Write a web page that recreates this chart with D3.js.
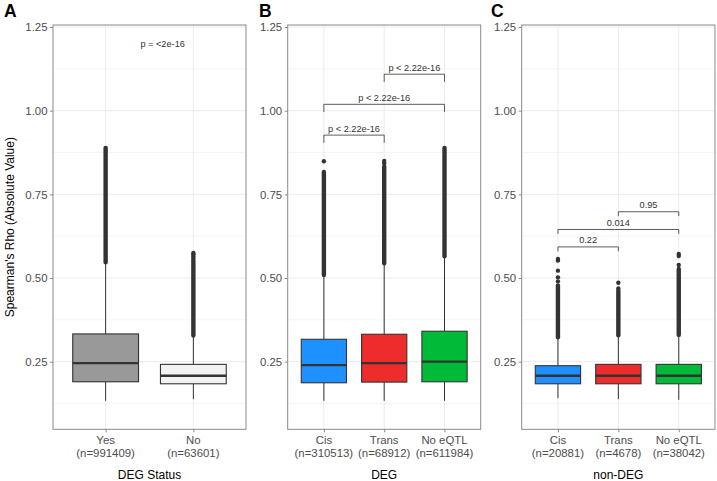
<!DOCTYPE html>
<html><head><meta charset="utf-8">
<script src="https://cdn.jsdelivr.net/npm/d3@7"></script>
<style>
body{margin:0;background:#fff;}
svg{display:block;font-family:"Liberation Sans",Arial,Helvetica,sans-serif;}
</style></head>
<body><svg id="chart" width="717" height="481"></svg>
<script>
// ---------------- DATA ----------------
const panelLetters = ["A", "B", "C"];
const panelTitles = ["DEG Status", "DEG", "non-DEG"];
const yTicks = [0.25, 0.50, 0.75, 1.00, 1.25];
const yMinor = [0.125, 0.375, 0.625, 0.875, 1.125];

// Panel A
const catsA = ["Yes", "No"];
const nA = ["991409", "63601"];
const lowA = [0.133, 0.138];
const q1A = [0.190, 0.184];
const medA = [0.246, 0.208];
const q3A = [0.333, 0.242];
const highA = [0.544, 0.325];
const denseLoA = [0.547, 0.328];
const denseHiA = [0.889, 0.552];
const pointsA = [[], [0.558, 0.565, 0.571, 0.575]];
const fillA = ["#999999", "#F2F2F2"];

// Panel B
const catsB = ["Cis", "Trans", "No eQTL"];
const nB = ["310513", "68912", "611984"];
const lowB = [0.133, 0.133, 0.133];
const q1B = [0.187, 0.189, 0.190];
const medB = [0.240, 0.246, 0.250];
const q3B = [0.317, 0.332, 0.341];
const highB = [0.506, 0.541, 0.562];
const denseLoB = [0.509, 0.544, 0.565];
const denseHiB = [0.817, 0.833, 0.889];
const pointsB = [[0.849], [0.843, 0.850], []];

// Panel C
const catsC = ["Cis", "Trans", "No eQTL"];
const nC = ["20881", "4678", "38042"];
const lowC = [0.141, 0.138, 0.136];
const q1C = [0.184, 0.184, 0.184];
const medC = [0.208, 0.208, 0.208];
const q3C = [0.238, 0.242, 0.242];
const highC = [0.320, 0.326, 0.327];
const denseLoC = [0.323, 0.329, 0.330];
const denseHiC = [0.478, 0.462, 0.527];
const pointsC = [[0.490, 0.502, 0.522, 0.552, 0.557], [0.469, 0.486], [0.539, 0.566, 0.572]];

const fillBC = ["#1E90FF", "#EE2C2C", "#00BA38"];

// Comparison brackets: [group1, group2, y, label]
const bracketsA = [];
const pLabelA = "p = <2e-16";
const bracketsB = [
  ["Cis", "Trans", 0.927, "p < 2.22e-16"],
  ["Cis", "No eQTL", 1.019, "p < 2.22e-16"],
  ["Trans", "No eQTL", 1.109, "p < 2.22e-16"]
];
const bracketsC = [
  ["Cis", "Trans", 0.593, "0.22"],
  ["Cis", "No eQTL", 0.645, "0.014"],
  ["Trans", "No eQTL", 0.698, "0.95"]
];

// ---------------- LAYOUT ----------------
const svg = d3.select("#chart");
const plotTop = 25, plotBottom = 429.3;
const y = d3.scaleLinear().domain([0.048, 1.256]).range([plotBottom, plotTop]);

const panels = [
  {left: 53, right: 246, cats: catsA, n: nA, low: lowA, q1: q1A, med: medA, q3: q3A, high: highA,
   dLo: denseLoA, dHi: denseHiA, pts: pointsA, fill: fillA, brackets: bracketsA, tip: 0.023, letterX: 4},
  {left: 287.7, right: 480.7, cats: catsB, n: nB, low: lowB, q1: q1B, med: medB, q3: q3B, high: highB,
   dLo: denseLoB, dHi: denseHiB, pts: pointsB, fill: fillBC, brackets: bracketsB, tip: 0.023, letterX: 259},
  {left: 521.7, right: 715, cats: catsC, n: nC, low: lowC, q1: q1C, med: medC, q3: q3C, high: highC,
   dLo: denseLoC, dHi: denseHiC, pts: pointsC, fill: fillBC, brackets: bracketsC, tip: 0.013, letterX: 491}
];

const dark = "#333333", tickCol = "#4D4D4D";
const R = 2.2;

panels.forEach((p, i) => {
  const g = svg.append("g");
  const x = d3.scalePoint().domain(p.cats).range([p.left, p.right]).padding(0.6);
  const step = x.step();
  const bw = step * 0.75;

  g.append("rect").attr("x", p.left).attr("y", plotTop).attr("width", p.right - p.left).attr("height", plotBottom - plotTop).attr("fill", "#fff");
  g.selectAll(".ymin").data(yMinor).join("line")
    .attr("x1", p.left).attr("x2", p.right).attr("y1", d => y(d)).attr("y2", d => y(d))
    .attr("stroke", "#F2F2F2").attr("stroke-width", 0.8);
  g.selectAll(".ymaj").data(yTicks).join("line")
    .attr("x1", p.left).attr("x2", p.right).attr("y1", d => y(d)).attr("y2", d => y(d))
    .attr("stroke", "#EBEBEB").attr("stroke-width", 1);
  g.selectAll(".xmaj").data(p.cats).join("line")
    .attr("x1", d => x(d)).attr("x2", d => x(d)).attr("y1", plotTop).attr("y2", plotBottom)
    .attr("stroke", "#EBEBEB").attr("stroke-width", 1);

  p.cats.forEach((c, j) => {
    const cx = x(c);
    g.append("line").attr("x1", cx).attr("x2", cx).attr("y1", y(p.low[j])).attr("y2", y(p.q1[j])).attr("stroke", dark).attr("stroke-width", 1);
    g.append("line").attr("x1", cx).attr("x2", cx).attr("y1", y(p.q3[j])).attr("y2", y(p.high[j])).attr("stroke", dark).attr("stroke-width", 1);
    g.append("line").attr("x1", cx).attr("x2", cx).attr("y1", y(p.dLo[j])).attr("y2", y(p.dHi[j]))
      .attr("stroke", dark).attr("stroke-width", 2 * R).attr("stroke-linecap", "round");
    g.selectAll(null).data(p.pts[j]).join("circle")
      .attr("cx", cx).attr("cy", d => y(d)).attr("r", R).attr("fill", dark);
    g.append("rect").attr("x", cx - bw / 2).attr("width", bw)
      .attr("y", y(p.q3[j])).attr("height", y(p.q1[j]) - y(p.q3[j]))
      .attr("fill", p.fill[j]).attr("stroke", dark).attr("stroke-width", 1.1);
    g.append("line").attr("x1", cx - bw / 2).attr("x2", cx + bw / 2).attr("y1", y(p.med[j])).attr("y2", y(p.med[j]))
      .attr("stroke", dark).attr("stroke-width", 2.3);
  });

  p.brackets.forEach(b => {
    const x1 = x(b[0]), x2 = x(b[1]), yy = y(b[2]), yt = y(b[2] - p.tip);
    g.append("path").attr("d", `M${x1},${yt}V${yy}H${x2}V${yt}`).attr("fill", "none").attr("stroke", dark).attr("stroke-width", 0.8);
    g.append("text").attr("x", (x1 + x2) / 2).attr("y", yy - 3.6).attr("text-anchor", "middle")
      .attr("font-size", 9.2).attr("fill", dark).text(b[3]);
  });
  if (i === 0) {
    g.append("text").attr("x", x(catsA[0]) + step * 0.65).attr("y", y(1.2) + 3.3).attr("text-anchor", "middle")
      .attr("font-size", 9.2).attr("fill", dark).text(pLabelA);
  }

  g.append("rect").attr("x", p.left).attr("y", plotTop).attr("width", p.right - p.left).attr("height", plotBottom - plotTop)
    .attr("fill", "none").attr("stroke", "#8a8a8a").attr("stroke-width", 1);

  const ya = d3.axisLeft(y).tickValues(yTicks).tickFormat(d3.format(".2f")).tickSize(3).tickPadding(2.5);
  const yg = g.append("g").attr("transform", `translate(${p.left},0)`).call(ya);
  yg.select(".domain").remove();
  yg.selectAll("line").attr("stroke", "#8a8a8a");
  yg.selectAll("text").attr("fill", tickCol).attr("font-size", 11.4);
  yg.attr("font-family", null).attr("font-size", null);

  const xa = d3.axisBottom(x).tickSize(3).tickFormat("");
  const xg = g.append("g").attr("transform", `translate(0,${plotBottom})`).call(xa);
  xg.select(".domain").remove();
  xg.selectAll("line").attr("stroke", "#8a8a8a");
  p.cats.forEach((c, j) => {
    const t = g.append("text").attr("text-anchor", "middle").attr("fill", tickCol).attr("font-size", 11.4);
    t.append("tspan").attr("x", x(c)).attr("y", 444.3).text(c);
    t.append("tspan").attr("x", x(c)).attr("y", 456.7).text("(n=" + p.n[j] + ")");
  });

  g.append("text").attr("x", (p.left + p.right) / 2).attr("y", 479.3).attr("text-anchor", "middle")
    .attr("font-size", 12).attr("fill", "#000").text(panelTitles[i]);

  g.append("text").attr("x", p.letterX).attr("y", 16.5).attr("font-size", 17.5).attr("font-weight", "bold")
    .attr("fill", "#000").text(panelLetters[i]);
});

svg.append("text").attr("transform", `translate(14.2,${(plotTop + plotBottom) / 2}) rotate(-90)`)
  .attr("text-anchor", "middle").attr("font-size", 12).attr("fill", "#000")
  .text("Spearman's Rho (Absolute Value)");
</script>
</body></html>
